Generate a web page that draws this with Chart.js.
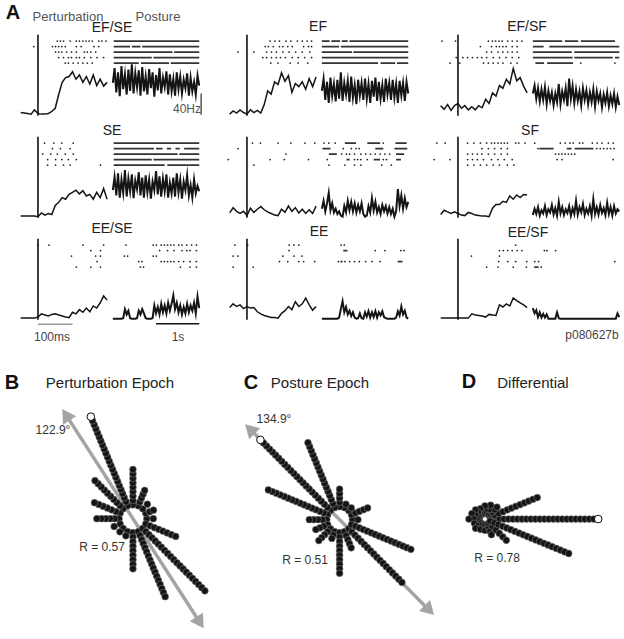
<!DOCTYPE html>
<html>
<head>
<title>Directional tuning of a neuron</title>
<script src="https://cdn.jsdelivr.net/npm/chart.js"></script>
<style>
  body {
    margin: 0;
    width: 624px;
    height: 639px;
    position: relative;
    overflow: hidden;
    background: #fff;
    font-family: "Liberation Sans", Arial, sans-serif;
  }
  canvas { position: absolute; }
  .t {
    position: absolute;
    transform: translate(-50%, -50%);
    white-space: nowrap;
    color: #222;
    font-size: 14px;
  }
  .letter { font-weight: bold; font-size: 20px; color: #111; }
  .head { color: #555; font-size: 13px; }
  .small { font-size: 12px; color: #333; }
  .epoch { font-size: 15px; color: #222; }
</style>
</head>
<body>
  <div class="t letter" style="left:13px;top:12px">A</div>
  <div class="t head" style="left:68px;top:16px">Perturbation</div>
  <div class="t head" style="left:158px;top:16px">Posture</div>

  <div class="t" style="left:112px;top:27px">EF/SE</div>
  <div class="t" style="left:318px;top:26px">EF</div>
  <div class="t" style="left:527px;top:26px">EF/SF</div>
  <div class="t" style="left:112px;top:130px">SE</div>
  <div class="t" style="left:530px;top:130px">SF</div>
  <div class="t" style="left:112px;top:228px">EE/SE</div>
  <div class="t" style="left:319px;top:231px">EE</div>
  <div class="t" style="left:528px;top:232px">EE/SF</div>

  <div class="t small" style="left:187px;top:109px;color:#555">40Hz</div>
  <div class="t small" style="left:52px;top:337px;color:#444">100ms</div>
  <div class="t small" style="left:178px;top:337px;color:#444">1s</div>
  <div class="t small" style="left:592px;top:335px;color:#444">p080627b</div>

  <div class="t letter" style="left:12px;top:382px">B</div>
  <div class="t epoch" style="left:110px;top:382px">Perturbation Epoch</div>
  <div class="t letter" style="left:251px;top:382px">C</div>
  <div class="t epoch" style="left:320px;top:382px">Posture Epoch</div>
  <div class="t letter" style="left:469px;top:381px">D</div>
  <div class="t epoch" style="left:533px;top:382px">Differential</div>

  <div class="t small" style="left:53px;top:430px">122.9°</div>
  <div class="t small" style="left:102px;top:547px">R = 0.57</div>
  <div class="t small" style="left:274px;top:419px">134.9°</div>
  <div class="t small" style="left:305px;top:560px">R = 0.51</div>
  <div class="t small" style="left:497px;top:558px">R = 0.78</div>

<script>
// time bins (ms) for the perturbation and posture histograms
const pertTimes = [-50,-40,-30,-20,-10,0,10,20,30,40,50,60,70,80,90,100,110,120,130,140,150,160,170,180,190,200];
const postTimes = [0,40,80,120,160,200,240,280,320,360,400,440,480,520,560,600,640,680,720,760,800,840,880,920,960,1000,1040,1080,1120,1160,1200,1240,1280,1320,1360,1400,1440,1480,1520,1560,1600,1640,1680,1720,1760,1800,1840,1880,1920,1960,2000];

// firing rates (Hz)
const efsePert = [4,3,2,1,9,2,1,1,2,6,12,38,61,70,72,81,67,75,61,72,58,75,55,67,54,61];
const efPert   = [1,7,3,9,4,1,9,4,8,3,19,45,39,62,57,79,63,74,42,59,53,62,48,68,53,71];
const efsfPert = [17,10,19,8,17,21,12,17,9,15,9,17,13,29,21,41,35,55,50,67,58,87,64,70,54,41];
const sePert   = [1,1,1,1,1,0,7,3,6,4,21,27,36,33,42,46,50,43,49,39,42,33,46,36,53,33];
const ctrPert  = [7,17,10,6,10,2,16,8,14,19,13,9,6,3,2,14,8,20,10,17,7,14,6,13,6,20];
const sfPert   = [4,12,9,6,9,6,3,2,8,6,3,2,1,1,0,16,23,23,29,27,39,33,41,36,42,41];
const eesePert = [1,1,1,1,1,3,9,7,5,8,9,7,5,3,2,12,9,17,12,20,13,24,20,30,43,35];
const eePert   = [21,28,23,26,19,23,20,21,13,9,6,4,2,2,1,10,15,23,17,32,23,28,39,26,16,23];
const eesfPert = [1,1,1,1,1,1,1,1,1,9,7,6,5,3,8,7,6,26,22,28,24,39,34,30,26,21];

const efsePost = [60,88,42,80,35,92,48,76,38,85,45,95,40,78,52,84,36,90,44,72,38,86,50,80,34,75,46,88,40,70,52,82,38,76,44,68,36,80,48,72,40,66,50,78,36,70,44,62,38,74,55];
const efPost   = [45,68,28,62,22,70,35,58,25,66,30,80,26,60,38,64,24,72,32,56,20,66,36,60,28,68,30,58,22,64,34,70,26,62,30,56,24,68,38,60,28,66,32,58,22,64,36,60,26,62,40];
const efsfPost = [40,55,30,50,25,48,28,52,20,45,26,42,18,40,24,58,20,44,28,50,16,68,30,54,22,48,26,44,18,50,28,46,20,42,24,48,16,44,26,40,14,38,22,42,16,36,20,40,14,34,18];
const sePost   = [50,75,40,82,36,70,45,88,38,72,48,80,35,68,52,84,40,74,36,78,46,70,34,66,50,86,42,76,38,72,48,80,36,64,44,74,38,82,46,70,34,66,50,78,40,60,36,70,44,58,48];
const ctrPost  = [15,30,10,25,45,12,25,8,15,5,10,2,0,20,8,30,12,28,10,25,8,22,10,25,5,0,2,20,8,35,12,28,8,18,5,22,10,20,6,18,5,15,0,10,52,20,40,15,35,18,28];
const sfPost   = [3,15,5,18,2,12,6,20,3,14,8,22,4,16,2,28,6,18,3,14,7,20,2,16,5,30,4,18,8,24,3,15,6,20,2,33,5,18,4,22,7,16,3,26,5,18,2,20,6,14,10];
const eesePost = [0,0,0,0,0,0,1,18,8,15,1,0,0,0,1,15,8,18,10,1,0,0,0,1,25,10,22,8,28,12,25,10,30,15,28,44,18,30,12,25,8,22,10,28,12,25,15,30,10,42,20];
const eePost   = [0,0,0,0,0,0,0,0,0,0,2,18,33,12,22,8,15,5,12,2,0,1,10,1,0,12,4,14,2,12,3,14,2,12,6,14,3,1,0,0,0,0,0,2,14,6,23,8,15,2,0];
const eesfPost = [20,10,16,3,12,2,9,2,8,0,0,0,0,0,12,1,0,0,0,0,0,0,0,0,0,0,0,0,0,0,0,0,0,0,0,0,0,0,0,0,0,0,0,0,0,0,0,0,0,10,3];

// spike times (ms), 5 trials each; "runs" are stretches where spikes merge into a bar
const efseSpikes = [[56,65,74,93,111,120,130,139,148,157,176,185,197],[-12,42,51,60,69,79,111,125,162,176],[51,60,69,83,97,111,134,143,153,167],[60,74,88,97,111,120,134,153,171,190],[79,88,102,116,130,143,157]];
const efsePostSpikes = [[],[],[],[],[]];
const efseRuns = [[[20,2000]],[[20,400],[440,640],[680,2000]],[[20,1380],[1420,2000]],[[20,900],[940,2000]],[[20,600],[650,1300],[1340,2000]]];

const efSpikes = [[67,81,94,113,127,146,160,174,187],[53,62,76,94,104,118,131,164,178,187],[-26,20,57,71,85,104,122,141,160,182],[46,57,71,85,97,111,131,148,167,187],[69,90,125,148,176]];
const efPostSpikes = [[],[],[],[],[]];
const efRuns = [[[0,180],[220,420],[460,600],[640,2000]],[[0,400],[440,2000]],[[0,700],[730,2000]],[[0,2000]],[[0,1300],[1360,1700],[1740,2000]]];

const efsfSpikes = [[-46,-7,88,100,109,119,128,144,157,171,185],[65,97,111,120,130,139,157,171],[83,97,116,130,144,157,171],[-5,14,28,42,56,69,83,102,120,139,157,176],[-23,5,74,88,102,116,130,153,171]];
const efsfPostSpikes = [[],[],[],[],[1110,1900]];
const efsfRuns = [[[0,680],[740,1050],[1110,1900]],[[0,250],[380,2000]],[[0,900],[960,2000]],[[0,920],[960,1850],[1900,2000]],[[60,260],[330,930]]];

const seSpikes = [[19,46,69,102],[42,65,93],[14,37,56,79,102],[28,51,69,88,111],[28,51,74,93,181]];
const sePostSpikes = [[],[],[],[],[]];
const seRuns = [[[20,2000]],[[20,950],[1000,1150],[1250,1350],[1450,1550],[1650,2000]],[[20,1500],[1540,2000]],[[20,900],[940,2000]],[[20,1200],[1260,2000]]];

const ctrSpikes = [[16,39,90,127,168,196],[-26],[113],[-54,67,108,178],[20]];
const ctrPostSpikes = [[52,163,311,1423],[496,682,793,867],[459,571,645,756,904,1015,1126,1237,1349,1460,1571],[126,756,830,904,1052,1423,1497],[163,533,756,904,1386,1608]];
const ctrRuns = [[[533,793],[1052,1349],[1704,1963]],[[15,200],[1237,1423],[1682,1978]],[[163,348],[1719,1904]],[[571,645],[1200,1349],[1719,1830]],[]];

const sfSpikes = [[-61,-37,28,46,65,83,97,106,116,125,134,143,167,176,194],[69,88,106,125,143],[28,42,56,69,88,106,125,143],[-69,-23,28,42,56,74,97,116,134,157],[28,46,65,83,102,120,143,162]];
const sfPostSpikes = [[44,637,748,859,934,1082,1156,1378,1489,1600,1749,1860],[119,1480,1560,1640,1720,1800,1880],[526,600,674,748,822,896,970],[563,674,1860],[]];
const sfRuns = [[],[[150,480],[785,896],[970,1400]],[],[],[]];

const eeseSpikes = [[0,32,130,190],[153,181],[97,167,181],[171],[111,153,181]];
const eesePostSpikes = [[304,934,1008,1119,1193,1267,1341,1415,1526,1601,1712,1823,1934],[1082,1267,1415,1601,1712,1786,1934],[267,341,934,1008],[600,674,1119,1193,1267,1341,1415,1526,1638,1786,1934],[637,711,1563,1786,1934]];
const eeseRuns = [[],[],[],[],[]];

const eeSpikes = [[-35,2,122,136,150],[122],[-40,-26,104,136,159],[94,118,150,164,196],[-40,18]];
const eePostSpikes = [[445,519],[1237,1460,1830,1904],[],[385,533,645,756,867,1015,1163,1349],[]];
const eeRuns = [[],[[496,593]],[],[[430,480],[1756,1867]],[]];

const eesfSpikes = [[167],[120,131,144,157,171,185],[39,120],[118,144,167,199],[83,116,160,198]];
const eesfPostSpikes = [[],[267,326,526],[],[44,133,1897],[193]];
const eesfRuns = [[],[],[],[],[[30,133]]];

// polar plots: 16 movement directions (deg) and spoke lengths
const directions = [0,22.5,45,67.5,90,112.5,135,157.5,180,202.5,225,247.5,270,292.5,315,337.5];
const perturbSpokes = [22,24,22,33,53,119,58,45,39,22,20,20,54,91,110,50];
const postureSpokes = [20,33,18,18,33,90,122,84,33,28,32,22,58,33,96,84];
const diffSpokes = [120,60,18,16,14,12,14,15,17,12,14,12,12,18,32,96];
const perturbPD = 122.9;
const posturePD = 134.9;

// ---- panel A ----
const colLeft = [9, 218, 429];
const rowTop = [26, 128, 230];
const panelList = [
  [efsePert, efsePost, efseSpikes, efsePostSpikes, efseRuns],
  [efPert, efPost, efSpikes, efPostSpikes, efRuns],
  [efsfPert, efsfPost, efsfSpikes, efsfPostSpikes, efsfRuns],
  [sePert, sePost, seSpikes, sePostSpikes, seRuns],
  [ctrPert, ctrPost, ctrSpikes, ctrPostSpikes, ctrRuns],
  [sfPert, sfPost, sfSpikes, sfPostSpikes, sfRuns],
  [eesePert, eesePost, eeseSpikes, eesePostSpikes, eeseRuns],
  [eePert, eePost, eeSpikes, eePostSpikes, eeRuns],
  [eesfPert, eesfPost, eesfSpikes, eesfPostSpikes, eesfRuns],
];

function spikeData(rows) {
  const pts = [];
  rows.forEach((row, i) => row.forEach(t => pts.push({ x: t, y: i + 2 })));
  return pts;
}
function runData(rows) {
  const pts = [];
  rows.forEach((row, i) => row.forEach(r => {
    pts.push({ x: r[0], y: i + 2 }, { x: r[1], y: i + 2 }, { x: r[1], y: null });
  }));
  return pts;
}
function lineSet(data, xAxis, color, width) {
  return {
    data: data, xAxisID: xAxis, yAxisID: "y", showLine: true,
    borderColor: color, borderWidth: width, pointRadius: 0,
    tension: 0, clip: false, spanGaps: false,
  };
}

panelList.forEach((p, k) => {
  const cv = document.createElement("canvas");
  cv.width = 200;
  cv.height = 100;
  cv.style.left = colLeft[k % 3] + "px";
  cv.style.top = rowTop[Math.floor(k / 3)] + "px";
  document.body.appendChild(cv);

  const datasets = [
    lineSet([{ x: 0, y: -2 }, { x: 0, y: 151 }], "xp", "#111", 1.6),
    lineSet(pertTimes.map((t, i) => ({ x: t, y: p[0][i] })), "xp", "#151515", 1.5),
    lineSet(postTimes.map((t, i) => ({ x: t, y: p[1][i] })), "xs", "#151515", 2),
    {
      data: spikeData(p[2]), xAxisID: "xp", yAxisID: "yr",
      pointRadius: 0.9, borderWidth: 0, backgroundColor: "#222", clip: false,
    },
    {
      data: spikeData(p[3]), xAxisID: "xs", yAxisID: "yr",
      pointRadius: 0.9, borderWidth: 0, backgroundColor: "#222", clip: false,
    },
    {
      data: runData(p[4]), xAxisID: "xs", yAxisID: "yr", showLine: true,
      borderColor: "#333", borderWidth: 1.7, pointRadius: 0, spanGaps: false, clip: false,
    },
  ];
  // scale bars
  if (k === 0) datasets.push(lineSet([{ x: 2044, y: 0 }, { x: 2044, y: 40 }], "xs", "#555", 1.5));
  if (k === 6) {
    datasets.push(lineSet([{ x: 0, y: -10.4 }, { x: 100, y: -10.4 }], "xp", "#999", 1.5));
    datasets.push(lineSet([{ x: 1000, y: -9.5 }, { x: 2000, y: -9.5 }], "xs", "#111", 1.5));
  }

  new Chart(cv, {
    type: "scatter",
    data: { datasets: datasets },
    options: {
      responsive: false,
      animation: false,
      events: [],
      layout: { padding: 0 },
      plugins: { legend: { display: false }, tooltip: { enabled: false } },
      scales: {
        x: { display: false },
        xp: { type: "linear", display: false, min: -72.22, max: 483.33 },
        xs: { type: "linear", display: false, min: -2311.1, max: 2133.3 },
        y: { type: "linear", display: false, min: -13.9, max: 160 },
        yr: { type: "linear", display: false, min: 0, max: 16.667, reverse: true },
      },
    },
  });
});

// ---- panels B, C, D ----
const dotStep = 4.8;
function spokeDots(lengths, r0) {
  const pts = [];
  lengths.forEach((len, i) => {
    const a = directions[i] * Math.PI / 180;
    const end = Math.max(len, r0);
    const n = Math.max(0, Math.round((end - r0) / dotStep));
    for (let j = 0; j <= n; j++) {
      const r = n ? r0 + (end - r0) * j / n : r0;
      pts.push({ x: r * Math.cos(a), y: r * Math.sin(a) });
    }
  });
  return pts;
}
function tipDot(lengths) {
  const i = lengths.indexOf(Math.max(...lengths));
  const a = directions[i] * Math.PI / 180;
  return [{ x: lengths[i] * Math.cos(a), y: lengths[i] * Math.sin(a) }];
}
function arrowSets(pd, h) {
  const a = pd * Math.PI / 180, c = Math.cos(a), s = Math.sin(a);
  return [
    {
      data: [{ x: h * c, y: h * s }, { x: -h * c, y: -h * s }],
      pointStyle: "triangle", pointRadius: 9, borderWidth: 0,
      backgroundColor: "#a4a4a4", rotation: [90 - pd, -90 - pd], clip: false,
    },
    {
      data: [{ x: h * c, y: h * s }, { x: -h * c, y: -h * s }], showLine: true,
      borderColor: "#a4a4a4", borderWidth: 3.5, pointRadius: 0, clip: false,
    },
  ];
}
function polarChart(left, top, w, h, cx, cy, lengths, r0, pd, arrowLen) {
  const cv = document.createElement("canvas");
  cv.width = w;
  cv.height = h;
  cv.style.left = left + "px";
  cv.style.top = top + "px";
  document.body.appendChild(cv);
  // first dataset is painted last, so the arrow goes at the end (underneath)
  let datasets = [
    {
      data: tipDot(lengths), pointRadius: 3.8, backgroundColor: "#fff",
      borderColor: "#111", borderWidth: 1, clip: false,
    },
    {
      data: spokeDots(lengths, r0), pointRadius: 3.4, backgroundColor: "#141414",
      borderColor: "#7a7a7a", borderWidth: 0.6, clip: false,
    },
  ];
  if (pd !== null) datasets = datasets.concat(arrowSets(pd, arrowLen));
  new Chart(cv, {
    type: "scatter",
    data: { datasets: datasets },
    options: {
      responsive: false,
      animation: false,
      events: [],
      layout: { padding: 0 },
      plugins: { legend: { display: false }, tooltip: { enabled: false } },
      scales: {
        x: { type: "linear", display: false, min: left - cx, max: left + w - cx },
        y: { type: "linear", display: false, min: cy - (top + h), max: cy - top },
      },
    },
  });
}

polarChart(0, 390, 240, 249, 134, 519, perturbSpokes, 15, perturbPD, 131);
polarChart(225, 395, 220, 240, 340, 520, postureSpokes, 14, posturePD, 136);
polarChart(445, 440, 179, 160, 482, 519, diffSpokes, 6, null, 0);
</script>
</body>
</html>
